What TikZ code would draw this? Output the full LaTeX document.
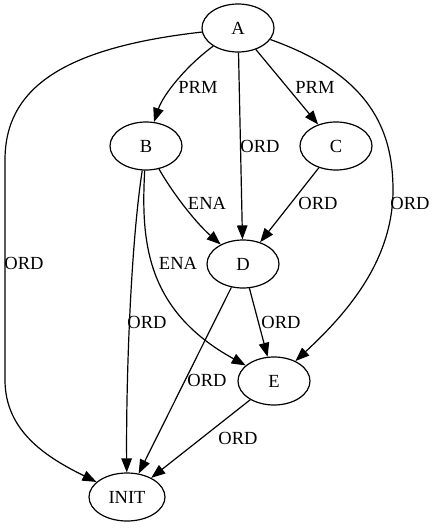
\documentclass[tikz,border=0pt]{standalone}
\usepackage{fontspec}
\setmainfont{Liberation Serif}
\usetikzlibrary{shapes.geometric,arrows.meta}

\begin{document}
\begin{tikzpicture}[x=1pt,y=-1pt,
    state/.style={ellipse, draw, line width=1.2pt, minimum width=72pt, minimum height=48pt, inner sep=0pt, font=\fontsize{18.5}{22}\selectfont},
    lbl/.style={inner sep=0pt, font=\fontsize{18.5}{22}\selectfont},
    edge/.style={line width=1.2pt, -{Triangle[length=14pt,width=10.5pt]}}]
    \useasboundingbox (0,0) rectangle (435,528);
    \node[state] (A) at (238,28) {A};
    \node[state] (B) at (146,146) {B};
    \node[state] (C) at (336,146) {C};
    \node[state] (D) at (243,264) {D};
    \node[state] (E) at (274,381) {E};
    \node[state, minimum width=76pt] (init) at (127,497) {INIT};
    \draw[edge] (A) .. controls (186,66) and (163,95) .. (B);
    \draw[edge] (A) -- (C);
    \draw[edge] (A) -- (D);
    \draw[edge] (A) .. controls (370,75) and (393,130) .. (393,190) .. controls (393,262) and (345,315) .. (E);
    \draw[edge] (A) .. controls (60,48) and (5,90) .. (5,160) -- (5,380) .. controls (5,432) and (48,458) .. (init);
    \draw[edge] (B) .. controls (172,192) and (195,222) .. (D);
    \draw[edge] (B) .. controls (141,240) and (145,310) .. (E);
    \draw[edge] (B) .. controls (130,250) and (126,390) .. (init);
    \draw[edge] (C) -- (D);
    \draw[edge] (D) -- (E);
    \draw[edge] (D) -- (init);
    \draw[edge] (E) -- (init);
    \node[lbl] (lab1) at (198,87) {PRM};
    \node[lbl] (lab2) at (315,87) {PRM};
    \node[lbl] (lab3) at (260,146) {ORD};
    \node[lbl] (lab4) at (207,203) {ENA};
    \node[lbl] (lab5) at (318,203) {ORD};
    \node[lbl] (lab6) at (410,203) {ORD};
    \node[lbl] (lab7) at (24,263) {ORD};
    \node[lbl] (lab8) at (178,263) {ENA};
    \node[lbl] (lab9) at (147,322) {ORD};
    \node[lbl] (lab10) at (281,322) {ORD};
    \node[lbl] (lab11) at (207,380) {ORD};
    \node[lbl] (lab12) at (238,438) {ORD};
\end{tikzpicture}
\end{document}
